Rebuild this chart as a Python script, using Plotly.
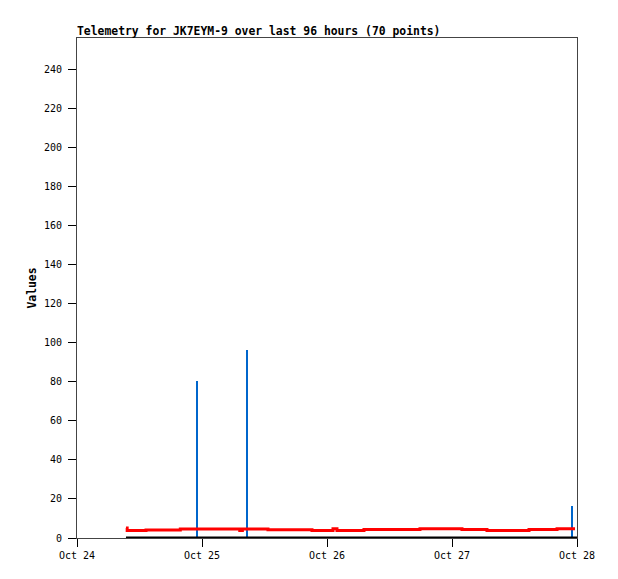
import plotly.graph_objects as go

# ---- data ----
red_times = ["2024-10-24 09:24", "2024-10-24 09:38", "2024-10-24 13:15", "2024-10-24 19:50",
             "2024-10-25 07:15", "2024-10-25 07:45", "2024-10-25 12:40", "2024-10-25 21:07",
             "2024-10-26 01:09", "2024-10-26 01:55", "2024-10-26 07:06", "2024-10-26 17:51",
             "2024-10-27 01:55", "2024-10-27 06:43", "2024-10-27 14:47", "2024-10-27 20:10",
             "2024-10-27 23:37"]
red_values = [5.1, 3.8, 4.1, 4.6,
              3.8, 4.6, 4.2, 3.8,
              4.8, 3.8, 4.3, 4.8,
              4.3, 3.8, 4.3, 4.8,
              4.8]

black_times = ["2024-10-24 09:24", "2024-10-28 00:00"]
black_values = [0, 0]

blue_times = ["2024-10-24 23:02", "2024-10-25 08:38", "2024-10-27 23:02"]
blue_values = [80.2, 96.5, 16.3]

title_text = "Telemetry for JK7EYM-9 over last 96 hours (70 points)"
y_ticks = list(range(0, 241, 20))
x_ticks = ["2024-10-24", "2024-10-25", "2024-10-26", "2024-10-27", "2024-10-28"]

MONO = "DejaVu Sans Mono"

fig = go.Figure()
fig.add_trace(go.Scatter(x=black_times, y=black_values, mode="lines",
                         line=dict(color="#000000", width=3), showlegend=False))
fig.add_trace(go.Scatter(x=red_times, y=red_values, mode="lines", line_shape="hv",
                         line=dict(color="#ff0000", width=3), showlegend=False))
fig.add_trace(go.Bar(x=blue_times, y=blue_values, width=[1.8e6] * len(blue_times),
                     marker=dict(color="#0066cc", line=dict(width=0)), showlegend=False))

fig.update_layout(
    width=618, height=579,
    margin=dict(l=69, r=49, t=30, b=49),
    paper_bgcolor="white", plot_bgcolor="white",
    title=dict(text="<b>" + title_text + "</b>", x=69 / 618, xanchor="left",
               y=1 - 23 / 579, yanchor="middle",
               font=dict(family=MONO, size=11.4, color="#000000")),
    bargap=0,
)
fig.update_xaxes(
    type="date", range=["2024-10-24", "2024-10-28"],
    tickvals=x_ticks, tickformat="%b %d",
    ticks="outside", ticklen=8, tickcolor="#000000", tickwidth=1,
    showline=True, linecolor="#444444", linewidth=1, mirror=True,
    showgrid=False, zeroline=False,
    tickfont=dict(family=MONO, size=10, color="#000000"),
)
fig.update_yaxes(
    range=[0, 256], tickvals=y_ticks,
    ticks="outside", ticklen=8, tickcolor="#000000", tickwidth=1,
    showline=True, linecolor="#444444", linewidth=1, mirror=True,
    showgrid=False, zeroline=False,
    ticklabelstandoff=4,
    tickfont=dict(family=MONO, size=10, color="#000000"),
    title=dict(text="<b>Values</b>", standoff=4,
               font=dict(family=MONO, size=11.4, color="#000000")),
)

fig.write_html("out.html")
